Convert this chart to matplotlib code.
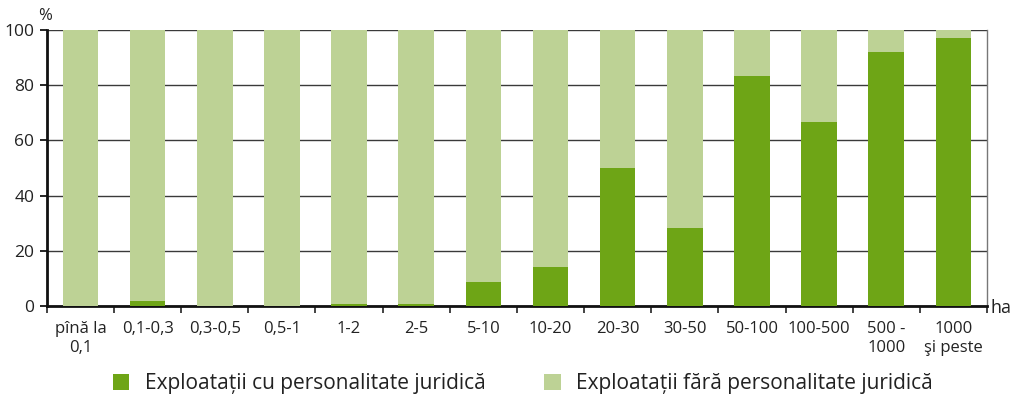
import matplotlib.pyplot as plt
import numpy as np
from matplotlib.patches import Patch

categories = ["pînă la\n0,1", "0,1-0,3", "0,3-0,5", "0,5-1", "1-2", "2-5", "5-10",
              "10-20", "20-30", "30-50", "50-100", "100-500", "500 -\n1000", "1000\nşi peste"]
cu_pj = [0.0, 1.8, 0.0, 0.0, 0.7, 0.6, 8.6, 14.2, 49.9, 28.4, 83.3, 66.7, 92.1, 97.2]
fara_pj = [100 - v for v in cu_pj]

dark = "#6ea516"
light = "#bdd295"

plt.rcParams['font.family'] = ['Open Sans', 'DejaVu Sans']

fig = plt.figure(figsize=(10.19, 4.0), dpi=100)
ax = fig.add_axes([0.046, 0.235, 0.9226, 0.69])

x = np.arange(len(categories))
ax.bar(x, cu_pj, width=0.53, color=dark, zorder=3, linewidth=0)
ax.bar(x, fara_pj, width=0.53, bottom=cu_pj, color=light, zorder=3, linewidth=0)

ax.set_xlim(-0.5, len(categories) - 0.5)
ax.set_ylim(0, 100)
ax.set_yticks([0, 20, 40, 60, 80, 100])
ax.yaxis.grid(True, color="#3a3a3a", linewidth=1.0, zorder=0)
ax.set_axisbelow(True)

ax.set_xticks(np.arange(-0.5, len(categories)), labels=[""] * (len(categories) + 1))
ax.set_xticks(x, labels=categories, minor=True)
ax.tick_params(axis="x", which="major", length=5, width=1.2, direction="out", colors="#222222")
ax.tick_params(axis="x", which="minor", length=0, pad=11, labelsize=12, labelcolor="#222222")
ax.tick_params(axis="y", length=5, width=1.2, labelsize=12.5, labelcolor="#222222", pad=4)

for lab in ax.get_xticklabels(minor=True):
    lab.set_verticalalignment("top")
    lab.set_linespacing(1.2)

ax.spines["left"].set_linewidth(2.0)
ax.spines["left"].set_color("#111111")
ax.spines["bottom"].set_linewidth(2.0)
ax.spines["bottom"].set_color("#111111")
ax.spines["top"].set_visible(False)
ax.spines["right"].set_color("#777777")
ax.spines["right"].set_linewidth(1.0)

fig.text(0.044, 0.96, "%", fontsize=12, ha="center", va="center", color="#222222")
fig.text(0.982, 0.23, "ha", fontsize=13, ha="center", va="center", color="#222222")

handles = [Patch(facecolor=dark, edgecolor="none"), Patch(facecolor=light, edgecolor="none")]
fig.legend(handles, ["Exploatații cu personalitate juridică", "Exploatații fără personalitate juridică"],
           loc="center", bbox_to_anchor=(0.513, 0.04), ncol=2, frameon=False, fontsize=15,
           handlelength=0.8, handleheight=0.8, handletextpad=0.75, columnspacing=2.8,
           labelcolor="#222222", borderpad=0.2)

fig.savefig("out.png", dpi=100)
